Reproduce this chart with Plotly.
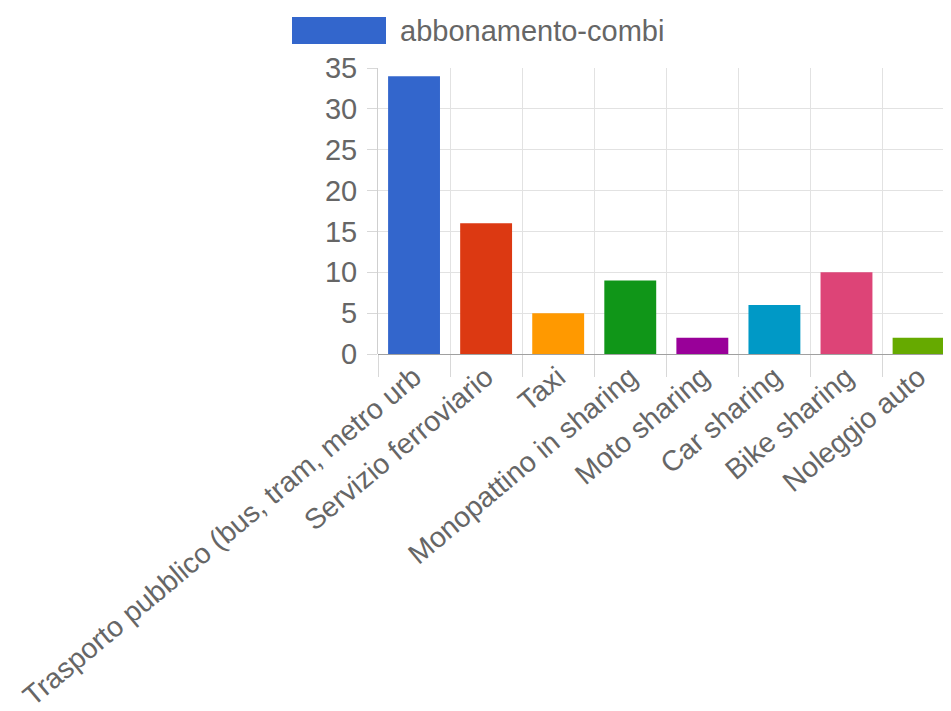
import plotly.graph_objects as go

categories = ["Trasporto pubblico (bus, tram, metro urb", "Servizio ferroviario", "Taxi",
              "Monopattino in sharing", "Moto sharing", "Car sharing", "Bike sharing", "Noleggio auto"]
values = [34, 16, 5, 9, 2, 6, 10, 2]
colors = ["#3366CC", "#DC3912", "#FF9900", "#109618", "#990099", "#0099C6", "#DD4477", "#66AA00"]
series_name = "abbonamento-combi"
y_ticks = [0, 5, 10, 15, 20, 25, 30, 35]

FONT = "Liberation Sans, Arial, sans-serif"
TXT = "#666666"

# page body has an 8px margin, so figure pixel = page pixel - 8
L, T, W, H = 370, 60, 943, 703
PW, PH = W - L, 346 - T

fig = go.Figure(go.Bar(x=categories, y=values, marker=dict(color=colors, line=dict(width=0)),
                       name=series_name, showlegend=False))

fig.update_layout(
    width=W, height=H,
    margin=dict(l=L, r=0, t=T, b=H - 346, autoexpand=False),
    paper_bgcolor="white", plot_bgcolor="white",
    bargap=0.28,
    font=dict(family=FONT, color=TXT, size=29),
)
fig.update_xaxes(
    type="category", range=[-0.5, 7.45], automargin=False,
    tickson="boundaries", showgrid=True, gridcolor="#e2e2e2", gridwidth=1,
    ticks="outside", ticklen=22, tickcolor="#d8d8d8",
    tickangle=-40, tickfont=dict(size=28.5, color=TXT, family=FONT),
    showline=False,
)
fig.update_yaxes(
    range=[0, 35], tickvals=y_ticks, automargin=False,
    showgrid=True, gridcolor="#e2e2e2", gridwidth=1,
    ticks="outside", ticklen=10, tickcolor="#d8d8d8",
    ticklabelstandoff=4,
    tickfont=dict(size=29, color=TXT, family=FONT),
    showline=True, linecolor="#cfcfcf", linewidth=1,
    zeroline=True, zerolinecolor="#a0a0a0", zerolinewidth=1,
)

# legend box + label (Chart.js style)
fig.add_shape(type="rect", xref="paper", yref="paper",
              x0=(292 - 378) / PW, x1=(386 - 378) / PW,
              y0=1 + (68 - 44) / PH, y1=1 + (68 - 17) / PH,
              fillcolor=colors[0], line=dict(width=0))
fig.add_annotation(xref="paper", yref="paper", x=(398 - 378) / PW, y=1 + (68 - 31) / PH,
                   text=series_name, showarrow=False, xanchor="left", yanchor="middle",
                   font=dict(size=29, color=TXT, family=FONT))

fig.write_html("out.html")
